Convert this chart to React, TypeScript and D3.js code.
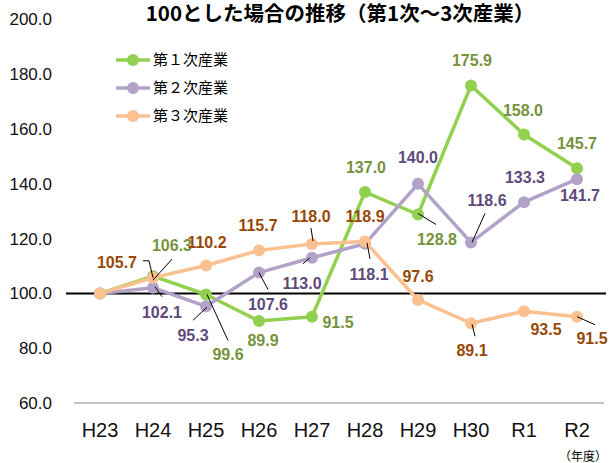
import React, { useEffect, useRef } from 'react';
import * as d3 from 'd3';

const years = ['H23', 'H24', 'H25', 'H26', 'H27', 'H28', 'H29', 'H30', 'R1', 'R2'];
const primary = [100.0, 106.3, 99.6, 89.9, 91.5, 137.0, 128.8, 175.9, 158.0, 145.7];
const secondary = [100.0, 102.1, 95.3, 107.6, 113.0, 118.1, 140.0, 118.6, 133.3, 141.7];
const tertiary = [100.0, 105.7, 110.2, 115.7, 118.0, 118.9, 97.6, 89.1, 93.5, 91.5];
const yTicks = [60, 80, 100, 120, 140, 160, 180, 200];
const seriesNames = ['第１次産業', '第２次産業', '第３次産業'];

type Off = [number, number] | null;
type Leader = [number, number][] | null;

// hand placed value labels, offset from the point (null = no label)
const primaryLabelPos: Off[] = [null, [19, -31], [22, 60], [4, 19], [26, 6], [1, -25], [19, 25], [1, -25], [-1, -24], [0, -25]];
const secondaryLabelPos: Off[] = [null, [9, 25], [-13, 29], [9, 32], [-10, 26], [4, 31], [0, -26], [16, -42], [1, -25], [3, 16]];
const tertiaryLabelPos: Off[] = [null, [-36, -15], [1, -23], [-1, -25], [-1, -28], [0, -25], [0, -24], [1, 27], [22, 18], [15, 22]];

// leader lines, relative to the point
const primaryLeaders: Leader[] = [null, [[19, -17], [0, 4]], [[1, 0], [22, 46]], null, null, null, [[0, -1], [18, 10]], null, null, null];
const secondaryLeaders: Leader[] = [null, [[2, -1], [9, 9]], [[-13, 14], [1, 1]], [[0, 0], [9, 17]], [[-9, 6], [-2, 0]], [[2, -1], [5, 15]], null, [[14, -29], [1, 0]], null, null];
const tertiaryLeaders: Leader[] = [null, [[-10, -17], [-4, -17], [0, 0]], null, null, [[-1, -16], [1, -3]], null, null, [[1, 1], [4, 13]], null, [[0, 0], [18, 8]]];

const App = () => {
  const svgRef = useRef<SVGSVGElement>(null);

  useEffect(() => {
    const width = 612;
    const height = 463;
    const numFont = '"Liberation Sans", Arial, sans-serif';
    const jpFont = '"Noto Sans CJK JP", sans-serif';

    const svg = d3.select(svgRef.current);
    svg.selectAll('*').remove();
    svg.attr('width', width).attr('height', height);

    const x = d3.scaleBand().domain(years).range([73.5, 603.5]);
    const cx = (d: string) => (x(d) as number) + x.bandwidth() / 2;
    const y = d3.scaleLinear().domain([60, 200]).range([403, 19.4]);

    // title
    svg.append('text')
      .attr('x', 340)
      .attr('y', 21)
      .attr('text-anchor', 'middle')
      .style('font-family', jpFont)
      .style('font-weight', 'bold')
      .style('font-size', '20.5px')
      .text('100とした場合の推移（第1次～3次産業）');

    // y tick labels
    svg.selectAll('.ytick')
      .data(yTicks)
      .enter()
      .append('text')
      .attr('x', 52)
      .attr('y', d => y(d))
      .attr('dy', '0.35em')
      .attr('text-anchor', 'end')
      .style('font-family', numFont)
      .style('font-size', '17px')
      .style('fill', '#111')
      .text(d => d.toFixed(1));

    // bottom axis line
    svg.append('line')
      .attr('x1', 74).attr('x2', 604)
      .attr('y1', y(60)).attr('y2', y(60))
      .attr('stroke', '#888')
      .attr('stroke-width', 1);

    // x labels
    svg.selectAll('.xtick')
      .data(years)
      .enter()
      .append('text')
      .attr('x', d => cx(d))
      .attr('y', 437)
      .attr('text-anchor', 'middle')
      .style('font-family', numFont)
      .style('font-size', '20px')
      .style('fill', '#111')
      .text(d => d);

    svg.append('text')
      .attr('x', 607)
      .attr('y', 461)
      .attr('text-anchor', 'end')
      .style('font-family', jpFont)
      .style('font-size', '12px')
      .text('（年度）');

    // base line at 100
    svg.append('line')
      .attr('x1', 66).attr('x2', 606)
      .attr('y1', y(100)).attr('y2', y(100))
      .attr('stroke', '#000')
      .attr('stroke-width', 2);

    const series = [
      { values: primary, color: '#92D050', text: '#76923C', labels: primaryLabelPos, leaders: primaryLeaders },
      { values: secondary, color: '#B3A2C7', text: '#604A7B', labels: secondaryLabelPos, leaders: secondaryLeaders },
      { values: tertiary, color: '#FAC090', text: '#984807', labels: tertiaryLabelPos, leaders: tertiaryLeaders },
    ];

    const line = d3.line<number>()
      .x((_, i) => cx(years[i]))
      .y(d => y(d));

    series.forEach(s => {
      svg.append('path')
        .datum(s.values)
        .attr('d', line)
        .attr('fill', 'none')
        .attr('stroke', s.color)
        .attr('stroke-width', 3.5)
        .attr('stroke-linejoin', 'round');

      svg.selectAll(null)
        .data(s.values)
        .enter()
        .append('circle')
        .attr('cx', (_, i) => cx(years[i]))
        .attr('cy', d => y(d))
        .attr('r', 6)
        .attr('fill', s.color);
    });

    // leader lines and value labels
    series.forEach(s => {
      s.values.forEach((v, i) => {
        const px = cx(years[i]);
        const py = y(v);
        const ld = s.leaders[i];
        if (ld) {
          svg.append('polyline')
            .attr('points', ld.map(p => `${px + p[0]},${py + p[1]}`).join(' '))
            .attr('fill', 'none')
            .attr('stroke', '#000')
            .attr('stroke-width', 1);
        }
        const off = s.labels[i];
        if (!off) return;
        svg.append('text')
          .attr('x', px + off[0])
          .attr('y', py + off[1])
          .attr('dy', '0.35em')
          .attr('text-anchor', 'middle')
          .style('font-family', numFont)
          .style('font-weight', 'bold')
          .style('font-size', '16px')
          .style('fill', s.text)
          .text(v.toFixed(1));
      });
    });

    // legend
    const legend = svg.append('g');
    series.forEach((s, i) => {
      const ly = 60 + i * 28;
      legend.append('line')
        .attr('x1', 116).attr('x2', 150)
        .attr('y1', ly).attr('y2', ly)
        .attr('stroke', s.color)
        .attr('stroke-width', 3.5);
      legend.append('circle')
        .attr('cx', 133).attr('cy', ly)
        .attr('r', 6)
        .attr('fill', s.color);
      legend.append('text')
        .attr('x', 153)
        .attr('y', ly)
        .attr('dy', '0.35em')
        .style('font-family', jpFont)
        .style('font-size', '15px')
        .text(seriesNames[i]);
    });
  }, []);

  return (
    <svg ref={svgRef} style={{ position: 'absolute', left: 0, top: 0, background: '#fff' }}></svg>
  );
};

export default App;
